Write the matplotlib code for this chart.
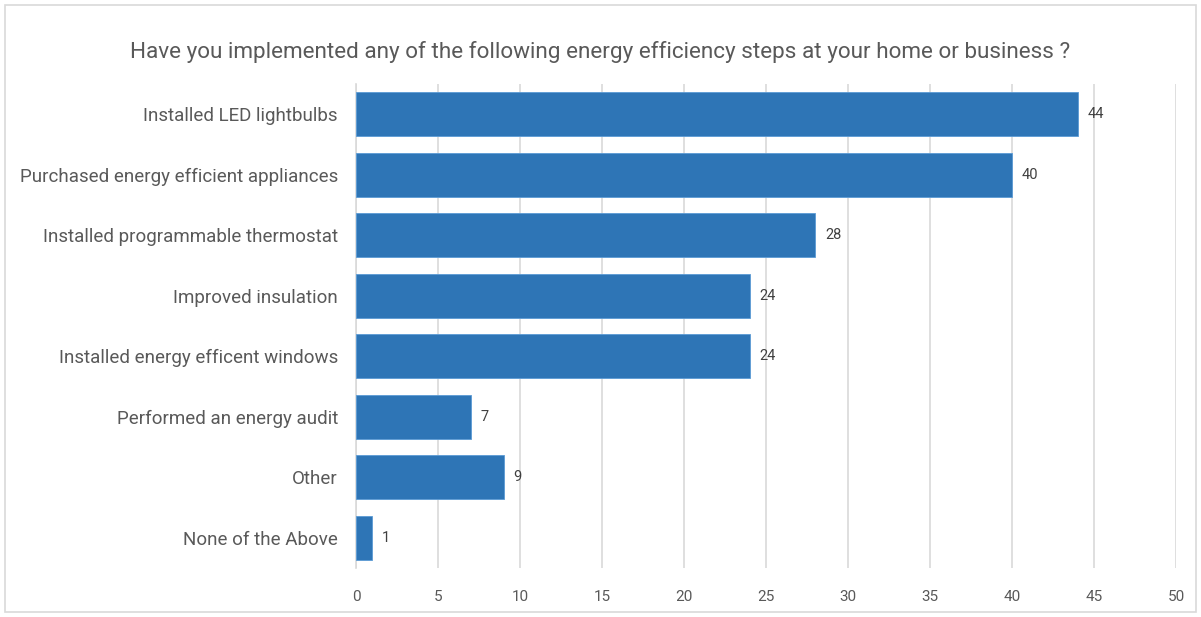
import matplotlib
matplotlib.use("Agg")
import matplotlib.pyplot as plt
from matplotlib.patches import Rectangle

plt.rcParams['font.family'] = ['Roboto', 'DejaVu Sans']

categories = ["Installed LED lightbulbs",
              "Purchased energy efficient appliances",
              "Installed programmable thermostat",
              "Improved insulation",
              "Installed energy efficent windows",
              "Performed an energy audit",
              "Other",
              "None of the Above"]
counts = [44, 40, 28, 24, 24, 7, 9, 1]
xticks = [0, 5, 10, 15, 20, 25, 30, 35, 40, 45, 50]

title = "Have you implemented any of the following energy efficiency steps at your home or business ?"
bar_color = "#2E75B6"
text_color = "#595959"

fig = plt.figure(figsize=(12.01, 6.17), dpi=100)
ax = fig.add_axes([0.2964, 0.0794, 0.6828, 0.7844])

# outer chart border
fig.patches.append(Rectangle((0.004, 0.008), 0.992, 0.984, transform=fig.transFigure,
                             fill=False, edgecolor="#D9D9D9", linewidth=1.2))

ypos = list(range(len(categories)))
ax.barh(ypos, counts, height=0.73, color=bar_color, edgecolor="#5B9BD5", linewidth=0.6, zorder=3)

for y, v in zip(ypos, counts):
    ax.text(v + 0.6, y, str(v), va="center", ha="left", fontsize=10.5, color="#404040")

ax.set_xlim(0, 50)
ax.set_ylim(len(categories) - 0.5, -0.5)
ax.set_xticks(xticks)
ax.set_yticks(ypos)
ax.set_yticklabels(categories)
ax.tick_params(axis="y", length=0, pad=13, labelsize=13.5, labelcolor=text_color)
ax.tick_params(axis="x", length=0, pad=16, labelsize=11, labelcolor=text_color)
ax.grid(axis="x", color="#D9D9D9", linewidth=1.2, zorder=0)
for s in ["top", "right", "bottom"]:
    ax.spines[s].set_visible(False)
ax.spines["left"].set_color("#D9D9D9")
ax.spines["left"].set_linewidth(1.2)

fig.text(0.5, 0.916, title, ha="center", va="center", fontsize=16.2, color=text_color)

fig.savefig("out.png", dpi=100)
